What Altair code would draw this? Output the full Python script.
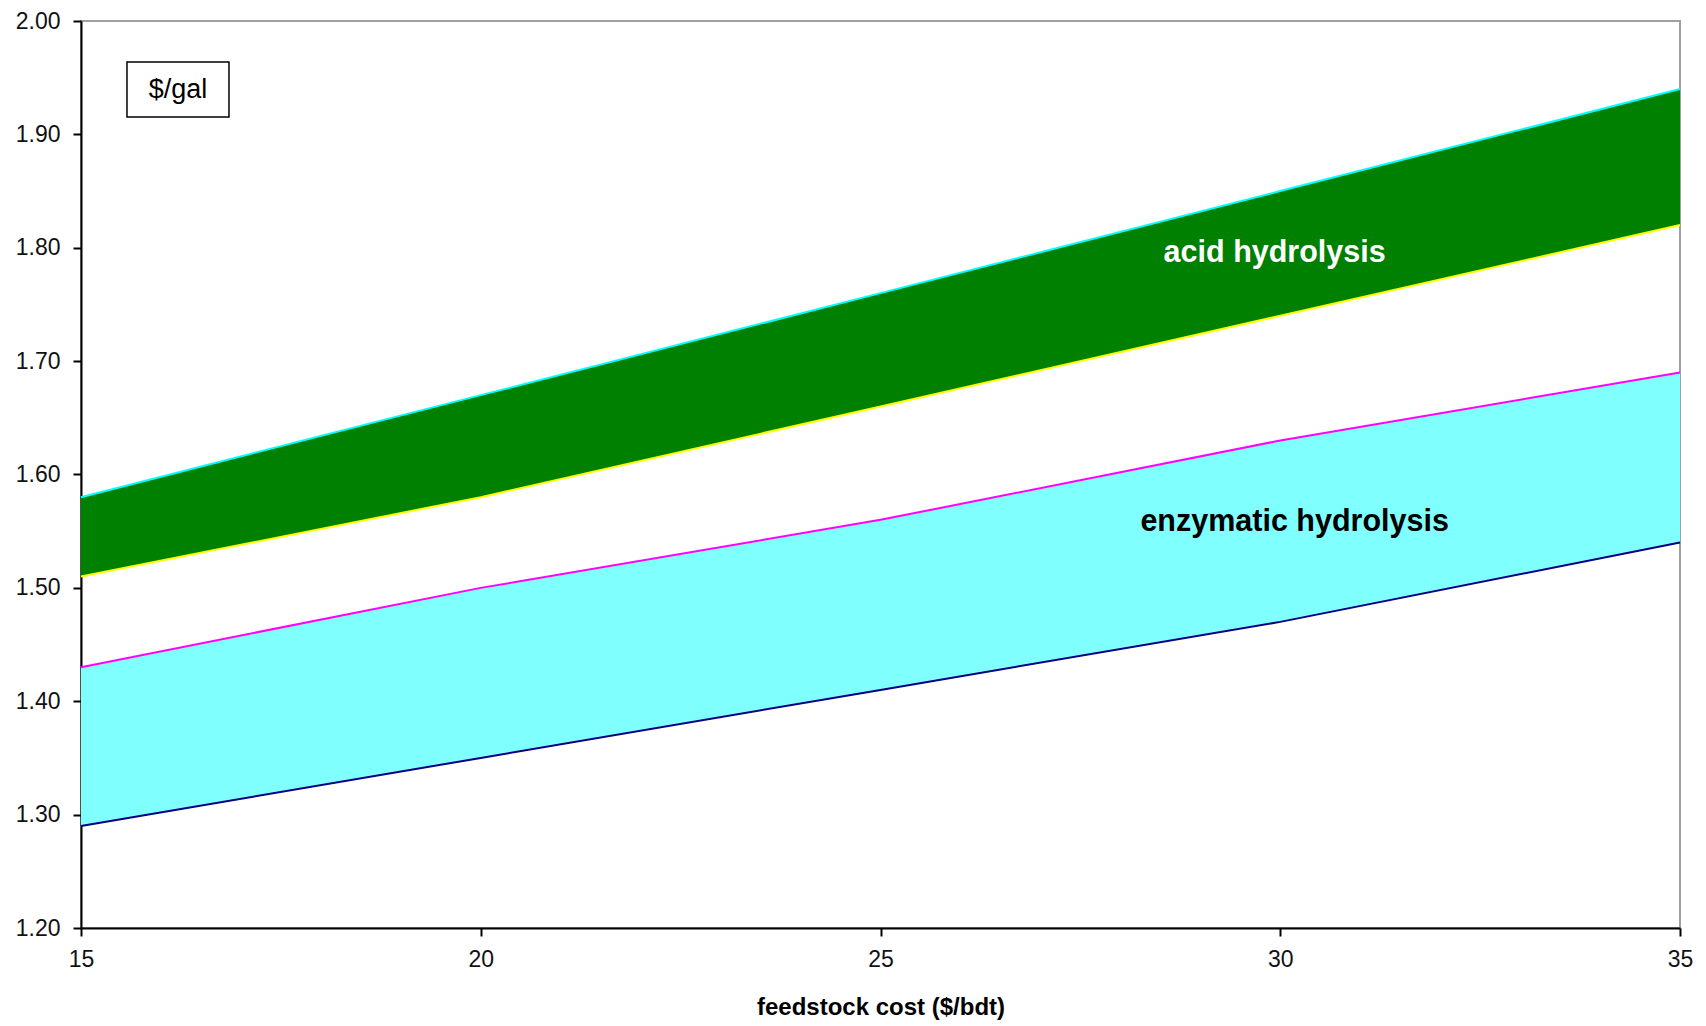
import altair as alt
import pandas as pd

# ---- data ----
feedstock_cost = [15, 20, 25, 30, 35]
acid_high = [1.58, 1.67, 1.76, 1.85, 1.94]
acid_low = [1.51, 1.58, 1.66, 1.74, 1.82]
enz_high = [1.43, 1.50, 1.56, 1.63, 1.69]
enz_low = [1.29, 1.35, 1.41, 1.47, 1.54]

y_ticks = [1.2, 1.3, 1.4, 1.5, 1.6, 1.7, 1.8, 1.9, 2.0]
x_ticks = [15, 20, 25, 30, 35]

label_text = ["acid hydrolysis", "enzymatic hydrolysis"]
label_x = [29.93, 30.18]
label_y = [1.787, 1.550]
label_color = ["white", "black"]

unit_text = ["$/gal"]
unit_box_x = [15.575]
unit_box_x2 = [16.851]
unit_box_y = [1.9638]
unit_box_y2 = [1.9153]

FONT = "Liberation Sans"

df = pd.DataFrame({
    "x": feedstock_cost,
    "acid_high": acid_high,
    "acid_low": acid_low,
    "enz_high": enz_high,
    "enz_low": enz_low,
})

xs = alt.Scale(domain=[15, 35], nice=False, zero=False)
ys = alt.Scale(domain=[1.2, 2.0], nice=False, zero=False)

x_enc = alt.X("x:Q", scale=xs, title="feedstock cost ($/bdt)",
              axis=alt.Axis(values=x_ticks, format="d", grid=False, labelFlush=False,
                            labelFontSize=23, labelPadding=12, labelColor="#111111",
                            tickSize=8, tickWidth=2, tickColor="black",
                            domainColor="black", domainWidth=2,
                            titleFontSize=24, titleFontWeight="bold", titleColor="black",
                            titlePadding=24, labelFont=FONT, titleFont=FONT))
y_axis = alt.Axis(values=y_ticks, format=".2f", grid=False, labelFlush=False,
                  labelFontSize=23, labelPadding=13, labelColor="#111111",
                  tickSize=8, tickWidth=2, tickColor="black",
                  domainColor="black", domainWidth=2, title=None, labelFont=FONT)

base = alt.Chart(df)

acid_area = base.mark_area(color="#008000", opacity=1).encode(
    x=x_enc, y=alt.Y("acid_high:Q", scale=ys, axis=y_axis), y2="acid_low:Q")
acid_top = base.mark_line(color="#00FFFF", strokeWidth=2).encode(
    x="x:Q", y=alt.Y("acid_high:Q", scale=ys))
acid_bot = base.mark_line(color="#FFFF00", strokeWidth=2).encode(
    x="x:Q", y=alt.Y("acid_low:Q", scale=ys))

enz_area = base.mark_area(color="#80FFFF", opacity=1).encode(
    x="x:Q", y=alt.Y("enz_high:Q", scale=ys), y2="enz_low:Q")
enz_top = base.mark_line(color="#FF00FF", strokeWidth=2).encode(
    x="x:Q", y=alt.Y("enz_high:Q", scale=ys))
enz_bot = base.mark_line(color="#000080", strokeWidth=2).encode(
    x="x:Q", y=alt.Y("enz_low:Q", scale=ys))

labels_df = pd.DataFrame({"text": label_text, "x": label_x, "y": label_y, "c": label_color})
labels = alt.Chart(labels_df).mark_text(
    font=FONT, fontSize=30.5, fontWeight="bold", align="center", baseline="alphabetic"
).encode(x="x:Q", y=alt.Y("y:Q", scale=ys), text="text:N",
         color=alt.Color("c:N", scale=None))

box_df = pd.DataFrame({"text": unit_text, "x": unit_box_x, "x2": unit_box_x2,
                       "y": unit_box_y, "y2": unit_box_y2})
box = alt.Chart(box_df).mark_rect(fill="white", stroke="black", strokeWidth=1.5).encode(
    x="x:Q", x2="x2:Q", y=alt.Y("y:Q", scale=ys), y2="y2:Q")
box_text = alt.Chart(box_df).transform_calculate(
    cx="(datum.x + datum.x2) / 2", cy="(datum.y + datum.y2) / 2"
).mark_text(font=FONT, fontSize=27, color="black", align="center", baseline="middle").encode(
    x="cx:Q", y=alt.Y("cy:Q", scale=ys), text="text:N")

chart = alt.layer(
    acid_area, enz_area, acid_top, acid_bot, enz_top, enz_bot, labels, box, box_text
).properties(
    width=1599, height=907,
    autosize=alt.AutoSizeParams(type="none"),
    padding={"left": 81, "top": 21, "right": 26, "bottom": 98},
    background="white",
).configure_view(stroke="#a0a0a0", strokeWidth=2)

chart.save("out.html", embed_options={"renderer": "svg", "actions": False})
